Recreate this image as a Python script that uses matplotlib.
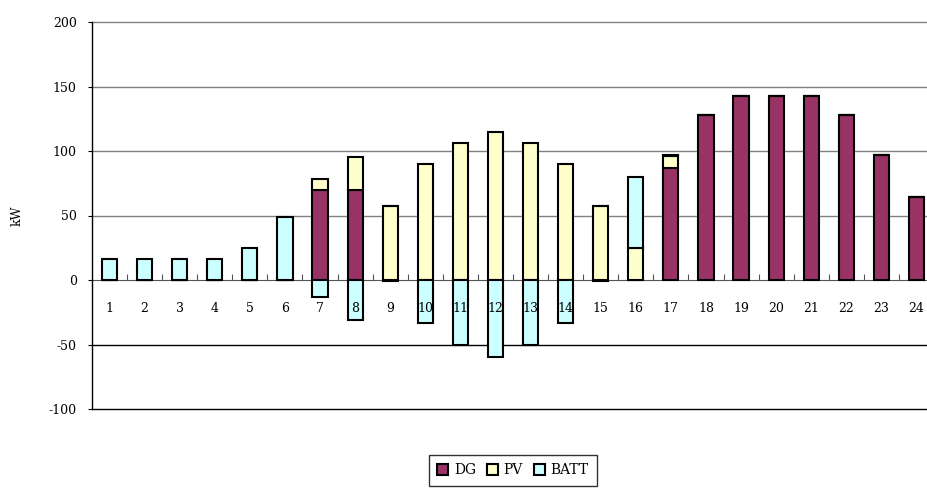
import matplotlib
matplotlib.use("Agg")
import matplotlib.pyplot as plt
import numpy as np

hours = list(range(1, 25))
dg   = [0, 0, 0, 0, 0, 0, 70, 70, -1, 0, 0, 0, 0, 0, -1, 0, 87, 128, 143, 143, 143, 128, 97, 64]
pv   = [0, 0, 0, 0, 0, 0, 8, 25, 57, 90, 106, 115, 106, 90, 57, 25, 9, 0, 0, 0, 0, 0, 0, 0]
batt = [16, 16, 16, 16, 25, 49, -13, -31, 0, -33, -50, -60, -50, -33, 0, 55, 1, 0, 0, 0, 0, 0, 0, 0]
series_names = ["DG", "PV", "BATT"]
colors = ["#993366", "#FFFFCC", "#CCFFFF"]
yticks = [-100, -50, 0, 50, 100, 150, 200]

plt.rcParams['font.family'] = ['DejaVu Serif']

fig = plt.figure(figsize=(9.28, 4.91), dpi=100)
ax = fig.add_axes([92/928, 1-409/491, (934-92)/928, (409-22)/491])

x = np.array(hours)
pos_base = np.zeros(len(hours))
neg_base = np.zeros(len(hours))
for name, vals, col in zip(series_names, [dg, pv, batt], colors):
    v = np.array(vals, dtype=float)
    bottoms = np.where(v >= 0, pos_base, neg_base)
    ax.bar(x, v, bottom=bottoms, width=0.43, color=col, edgecolor='black',
           linewidth=1.5, label=name, zorder=3)
    pos_base = pos_base + np.where(v > 0, v, 0)
    neg_base = neg_base + np.where(v < 0, v, 0)

ax.set_xlim(0.5, 24.5)
ax.set_ylim(-100, 200)

for yv in yticks:
    if yv == 0:
        continue
    ax.axhline(yv, color='#808080' if yv > 0 else 'black', linewidth=1,
               zorder=1, clip_on=False)

for s in ['top', 'right']:
    ax.spines[s].set_visible(False)
ax.spines['left'].set_linewidth(1)
ax.spines['bottom'].set_position(('data', 0))
ax.spines['bottom'].set_color('#555555')
ax.spines['bottom'].set_zorder(2)

ax.set_yticks(yticks)
ax.set_yticklabels([str(t) for t in yticks], fontsize=9)
ax.tick_params(axis='y', length=3, direction='out', pad=8)

ax.set_xticks(np.arange(1.5, 24.5, 1.0))
ax.set_xticklabels([])
ax.tick_params(axis='x', which='major', direction='in', length=4, color='#555555')
ax.set_xticks(x, minor=True)
ax.set_xticklabels([str(h) for h in hours], minor=True, fontsize=9)
ax.tick_params(axis='x', which='minor', length=0, pad=16)
ax.xaxis.set_zorder(4)

ax.set_ylabel("kW", fontsize=9)
ax.yaxis.set_label_coords((24-92)/842, 0.5)

leg = fig.legend(loc='upper center', bbox_to_anchor=(513/928, 1-448/491), ncol=3,
                 frameon=True, fancybox=False, edgecolor='black', fontsize=10,
                 handlelength=0.8, handleheight=0.8, handletextpad=0.4,
                 columnspacing=0.8, borderpad=0.6)
leg.get_frame().set_linewidth(1)

fig.savefig("out.png", dpi=100)
